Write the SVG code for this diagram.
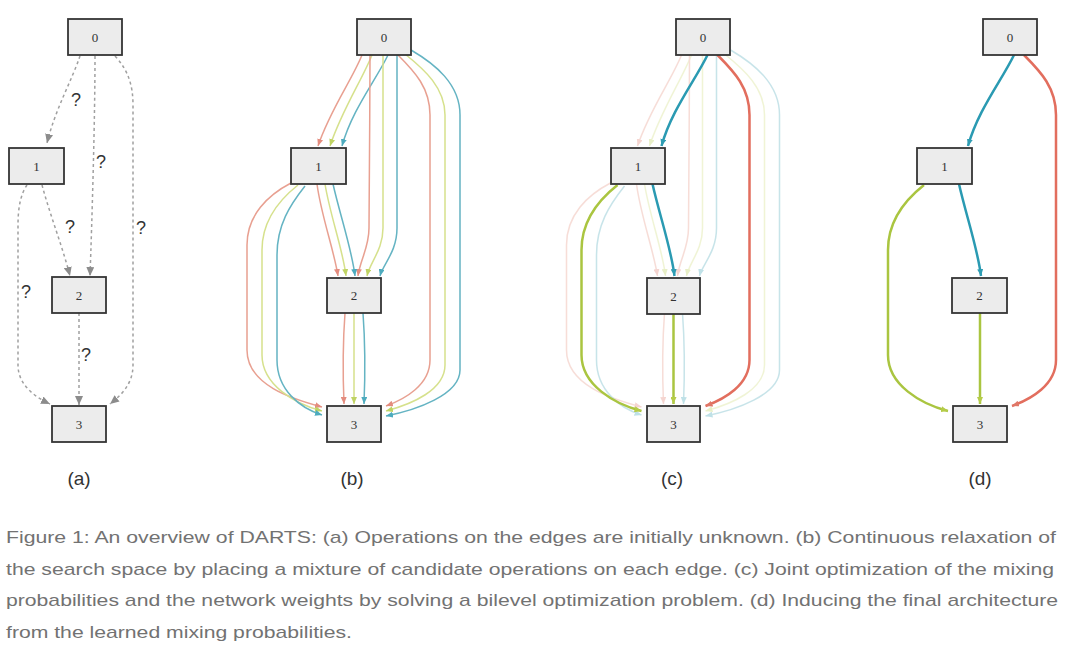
<svg xmlns="http://www.w3.org/2000/svg" xmlns:xlink="http://www.w3.org/1999/xlink" width="1080" height="648" viewBox="0 0 1080 648">
  <style>
    .node rect { fill: #ececec; stroke: #353535; stroke-width: 1.8; }
    .node text { font-family: "Liberation Serif", "DejaVu Serif", serif; font-size: 13px; fill: #333; text-anchor: middle; }
    .dash { fill: none; stroke: #a0a0a0; stroke-width: 1.5; stroke-dasharray: 3 3; marker-end: url(#mGray); }
    .q { font-family: "Liberation Sans", Arial, sans-serif; font-size: 18px; fill: #333; text-anchor: middle; }
    .lab { font-family: "Liberation Sans", Arial, sans-serif; font-size: 19px; fill: #333; text-anchor: middle; }
    .cap { font-family: "Liberation Sans", Arial, sans-serif; font-size: 17px; fill: #727272; }
    .e { fill: none; stroke-width: 1.5; }
    .r { stroke: #e5907e; marker-end: url(#mRed); }
    .y { stroke: #cfdc78; marker-end: url(#mYel); }
    .t { stroke: #4aa7b9; marker-end: url(#mTeal); }
    .s { stroke-width: 2.5; }
    .sr { stroke: #e26e5e; marker-end: url(#mRed); }
    .sy { stroke: #aac540; marker-end: url(#mYel); }
    .st { stroke: #2a9ab2; marker-end: url(#mTeal); }
  </style>
  <defs>
    <marker id="mGray" markerUnits="userSpaceOnUse" markerWidth="9" markerHeight="8" viewBox="0 0 9 8" refX="9" refY="4" orient="auto"><path d="M0,0 L9,4 L0,8 z" fill="#8c8c8c"/></marker>
    <marker id="mRed" markerUnits="userSpaceOnUse" markerWidth="7" markerHeight="6" viewBox="0 0 7 6" refX="7" refY="3" orient="auto"><path d="M0,0 L7,3 L0,6 z" fill="#e07868"/></marker>
    <marker id="mYel" markerUnits="userSpaceOnUse" markerWidth="7" markerHeight="6" viewBox="0 0 7 6" refX="7" refY="3" orient="auto"><path d="M0,0 L7,3 L0,6 z" fill="#b5cc48"/></marker>
    <marker id="mTeal" markerUnits="userSpaceOnUse" markerWidth="7" markerHeight="6" viewBox="0 0 7 6" refX="7" refY="3" orient="auto"><path d="M0,0 L7,3 L0,6 z" fill="#2f9db3"/></marker>
    <!-- base edge geometry of panel (b) -->
    <path id="e01r" d="M 362 55 C 352 80 330 110 318 146"/>
    <path id="e01y" d="M 372 55 C 362 80 342 110 330 146"/>
    <path id="e01t" d="M 388 55 C 376 80 352 110 342 146"/>
    <path id="e02r" d="M 370 55 C 370 110 369 200 369 228 C 369 248 360 260 358 276"/>
    <path id="e02y" d="M 383 55 C 383 110 383 200 383 228 C 383 250 370 262 367 276"/>
    <path id="e02t" d="M 397 55 C 397 110 397 200 397 228 C 397 252 383 264 380 276"/>
    <path id="e03r" d="M 398 55 C 415 72 430 88 430 115 L 430 360 C 430 385 405 399 386 406"/>
    <path id="e03y" d="M 405 54 C 425 70 445 88 445 115 L 445 365 C 445 390 412 404 386 411"/>
    <path id="e03t" d="M 411 50 C 435 64 460 84 460 115 L 460 370 C 460 395 416 410 386 416"/>
    <path id="e12r" d="M 317 184 C 321 215 334 250 338 276"/>
    <path id="e12y" d="M 325 184 C 330 215 343 250 346 276"/>
    <path id="e12t" d="M 333 184 C 340 215 352 250 355 276"/>
    <path id="e13r" d="M 291 183 C 268 195 247 215 247 245 L 247 350 C 247 385 292 399 322 407"/>
    <path id="e13y" d="M 298 185 C 279 200 262 220 262 250 L 262 355 C 262 385 295 404 322 411"/>
    <path id="e13t" d="M 305 186 C 290 205 277 225 277 255 L 277 360 C 277 390 300 408 322 415"/>
    <path id="e23r" d="M 345 313 C 343 340 343 380 344 404"/>
    <path id="e23y" d="M 354 313 L 354 404"/>
    <path id="e23t" d="M 363 313 C 365 340 365 380 364 404"/>
  </defs>

  <!-- ===== Panel (a) ===== -->
  <g id="edges-a">
    <path class="dash" d="M 80 56 C 72 80 55 110 47 143"/>
    <path class="dash" d="M 95 56 C 95 120 92 220 90 276"/>
    <path class="dash" d="M 115 56 C 128 70 133 85 133 105 L 133 365 C 133 385 120 396 110 404"/>
    <path class="dash" d="M 42 185 C 50 215 62 245 70 276"/>
    <path class="dash" d="M 27 185 C 20 195 18 210 18 225 L 18 365 C 18 385 35 397 50 404"/>
    <path class="dash" d="M 79 313 L 79 405"/>
  </g>
  <g id="qlabels-a">
    <text class="q" x="76" y="106">?</text>
    <text class="q" x="101" y="168">?</text>
    <text class="q" x="70" y="233">?</text>
    <text class="q" x="141" y="234">?</text>
    <text class="q" x="26" y="298">?</text>
    <text class="q" x="86" y="361">?</text>
  </g>
  <g id="a-node0" class="node"><rect x="68" y="19" width="54" height="36"/><text x="95" y="41.5">0</text></g>
  <g id="a-node1" class="node"><rect x="9" y="148" width="55" height="36"/><text x="36.5" y="170.5">1</text></g>
  <g id="a-node2" class="node"><rect x="52" y="277" width="54" height="36"/><text x="79" y="299.5">2</text></g>
  <g id="a-node3" class="node"><rect x="52" y="406" width="54" height="36"/><text x="79" y="428.5">3</text></g>

  <!-- ===== Panel (b) ===== -->
  <g id="edges-b" opacity="0.85">
    <use xlink:href="#e01r" class="e r"/><use xlink:href="#e01y" class="e y"/><use xlink:href="#e01t" class="e t"/>
    <use xlink:href="#e02r" class="e r"/><use xlink:href="#e02y" class="e y"/><use xlink:href="#e02t" class="e t"/>
    <use xlink:href="#e03r" class="e r"/><use xlink:href="#e03y" class="e y"/><use xlink:href="#e03t" class="e t"/>
    <use xlink:href="#e12r" class="e r"/><use xlink:href="#e12y" class="e y"/><use xlink:href="#e12t" class="e t"/>
    <use xlink:href="#e13r" class="e r"/><use xlink:href="#e13y" class="e y"/><use xlink:href="#e13t" class="e t"/>
    <use xlink:href="#e23r" class="e r"/><use xlink:href="#e23y" class="e y"/><use xlink:href="#e23t" class="e t"/>
  </g>
  <g id="b-node0" class="node"><rect x="357" y="19" width="54" height="36"/><text x="384" y="41.5">0</text></g>
  <g id="b-node1" class="node"><rect x="291" y="148" width="55" height="36"/><text x="318.5" y="170.5">1</text></g>
  <g id="b-node2" class="node"><rect x="327" y="278" width="54" height="35"/><text x="354" y="300">2</text></g>
  <g id="b-node3" class="node"><rect x="327" y="406" width="54" height="36"/><text x="354" y="428.5">3</text></g>

  <!-- ===== Panel (c) ===== -->
  <g id="edges-c" transform="translate(319.5,0)">
    <g opacity="0.3">
      <use xlink:href="#e01r" class="e r"/><use xlink:href="#e01y" class="e y"/>
      <use xlink:href="#e02r" class="e r"/><use xlink:href="#e02y" class="e y"/><use xlink:href="#e02t" class="e t"/>
      <use xlink:href="#e03y" class="e y"/><use xlink:href="#e03t" class="e t"/>
      <use xlink:href="#e12r" class="e r"/><use xlink:href="#e12y" class="e y"/>
      <use xlink:href="#e13r" class="e r"/><use xlink:href="#e13t" class="e t"/>
      <use xlink:href="#e23r" class="e r"/><use xlink:href="#e23t" class="e t"/>
    </g>
    <use xlink:href="#e01t" class="e s st"/>
    <use xlink:href="#e03r" class="e s sr"/>
    <use xlink:href="#e12t" class="e s st"/>
    <use xlink:href="#e13y" class="e s sy"/>
    <use xlink:href="#e23y" class="e s sy"/>
  </g>
  <g id="c-node0" class="node"><rect x="676" y="19" width="54" height="36"/><text x="703" y="41.5">0</text></g>
  <g id="c-node1" class="node"><rect x="611" y="148" width="54" height="36"/><text x="638" y="170.5">1</text></g>
  <g id="c-node2" class="node"><rect x="647" y="278" width="53" height="36"/><text x="673.5" y="300.5">2</text></g>
  <g id="c-node3" class="node"><rect x="647" y="406" width="53" height="36"/><text x="673.5" y="428.5">3</text></g>

  <!-- ===== Panel (d) ===== -->
  <g id="edges-d" transform="translate(626,0)">
    <use xlink:href="#e01t" class="e s st"/>
    <use xlink:href="#e03r" class="e s sr"/>
    <use xlink:href="#e12t" class="e s st"/>
    <use xlink:href="#e13y" class="e s sy"/>
    <use xlink:href="#e23y" class="e s sy"/>
  </g>
  <g id="d-node0" class="node"><rect x="983" y="19" width="54" height="36"/><text x="1010" y="41.5">0</text></g>
  <g id="d-node1" class="node"><rect x="917" y="148" width="55" height="36"/><text x="944.5" y="170.5">1</text></g>
  <g id="d-node2" class="node"><rect x="952" y="278" width="55" height="35"/><text x="979.5" y="300">2</text></g>
  <g id="d-node3" class="node"><rect x="953" y="406" width="54" height="36"/><text x="980" y="428.5">3</text></g>

  <!-- panel labels -->
  <text class="lab" x="79" y="485">(a)</text>
  <text class="lab" x="352" y="485">(b)</text>
  <text class="lab" x="672" y="485">(c)</text>
  <text class="lab" x="980" y="485">(d)</text>

  <!-- caption -->
  <g id="caption">
    <text class="cap" x="6" y="543" textLength="1050" lengthAdjust="spacingAndGlyphs">Figure 1: An overview of DARTS: (a) Operations on the edges are initially unknown. (b) Continuous relaxation of</text>
    <text class="cap" x="6" y="575" textLength="1048" lengthAdjust="spacingAndGlyphs">the search space by placing a mixture of candidate operations on each edge. (c) Joint optimization of the mixing</text>
    <text class="cap" x="6" y="606" textLength="1052" lengthAdjust="spacingAndGlyphs">probabilities and the network weights by solving a bilevel optimization problem. (d) Inducing the final architecture</text>
    <text class="cap" x="6" y="638" textLength="346" lengthAdjust="spacingAndGlyphs">from the learned mixing probabilities.</text>
  </g>
</svg>
